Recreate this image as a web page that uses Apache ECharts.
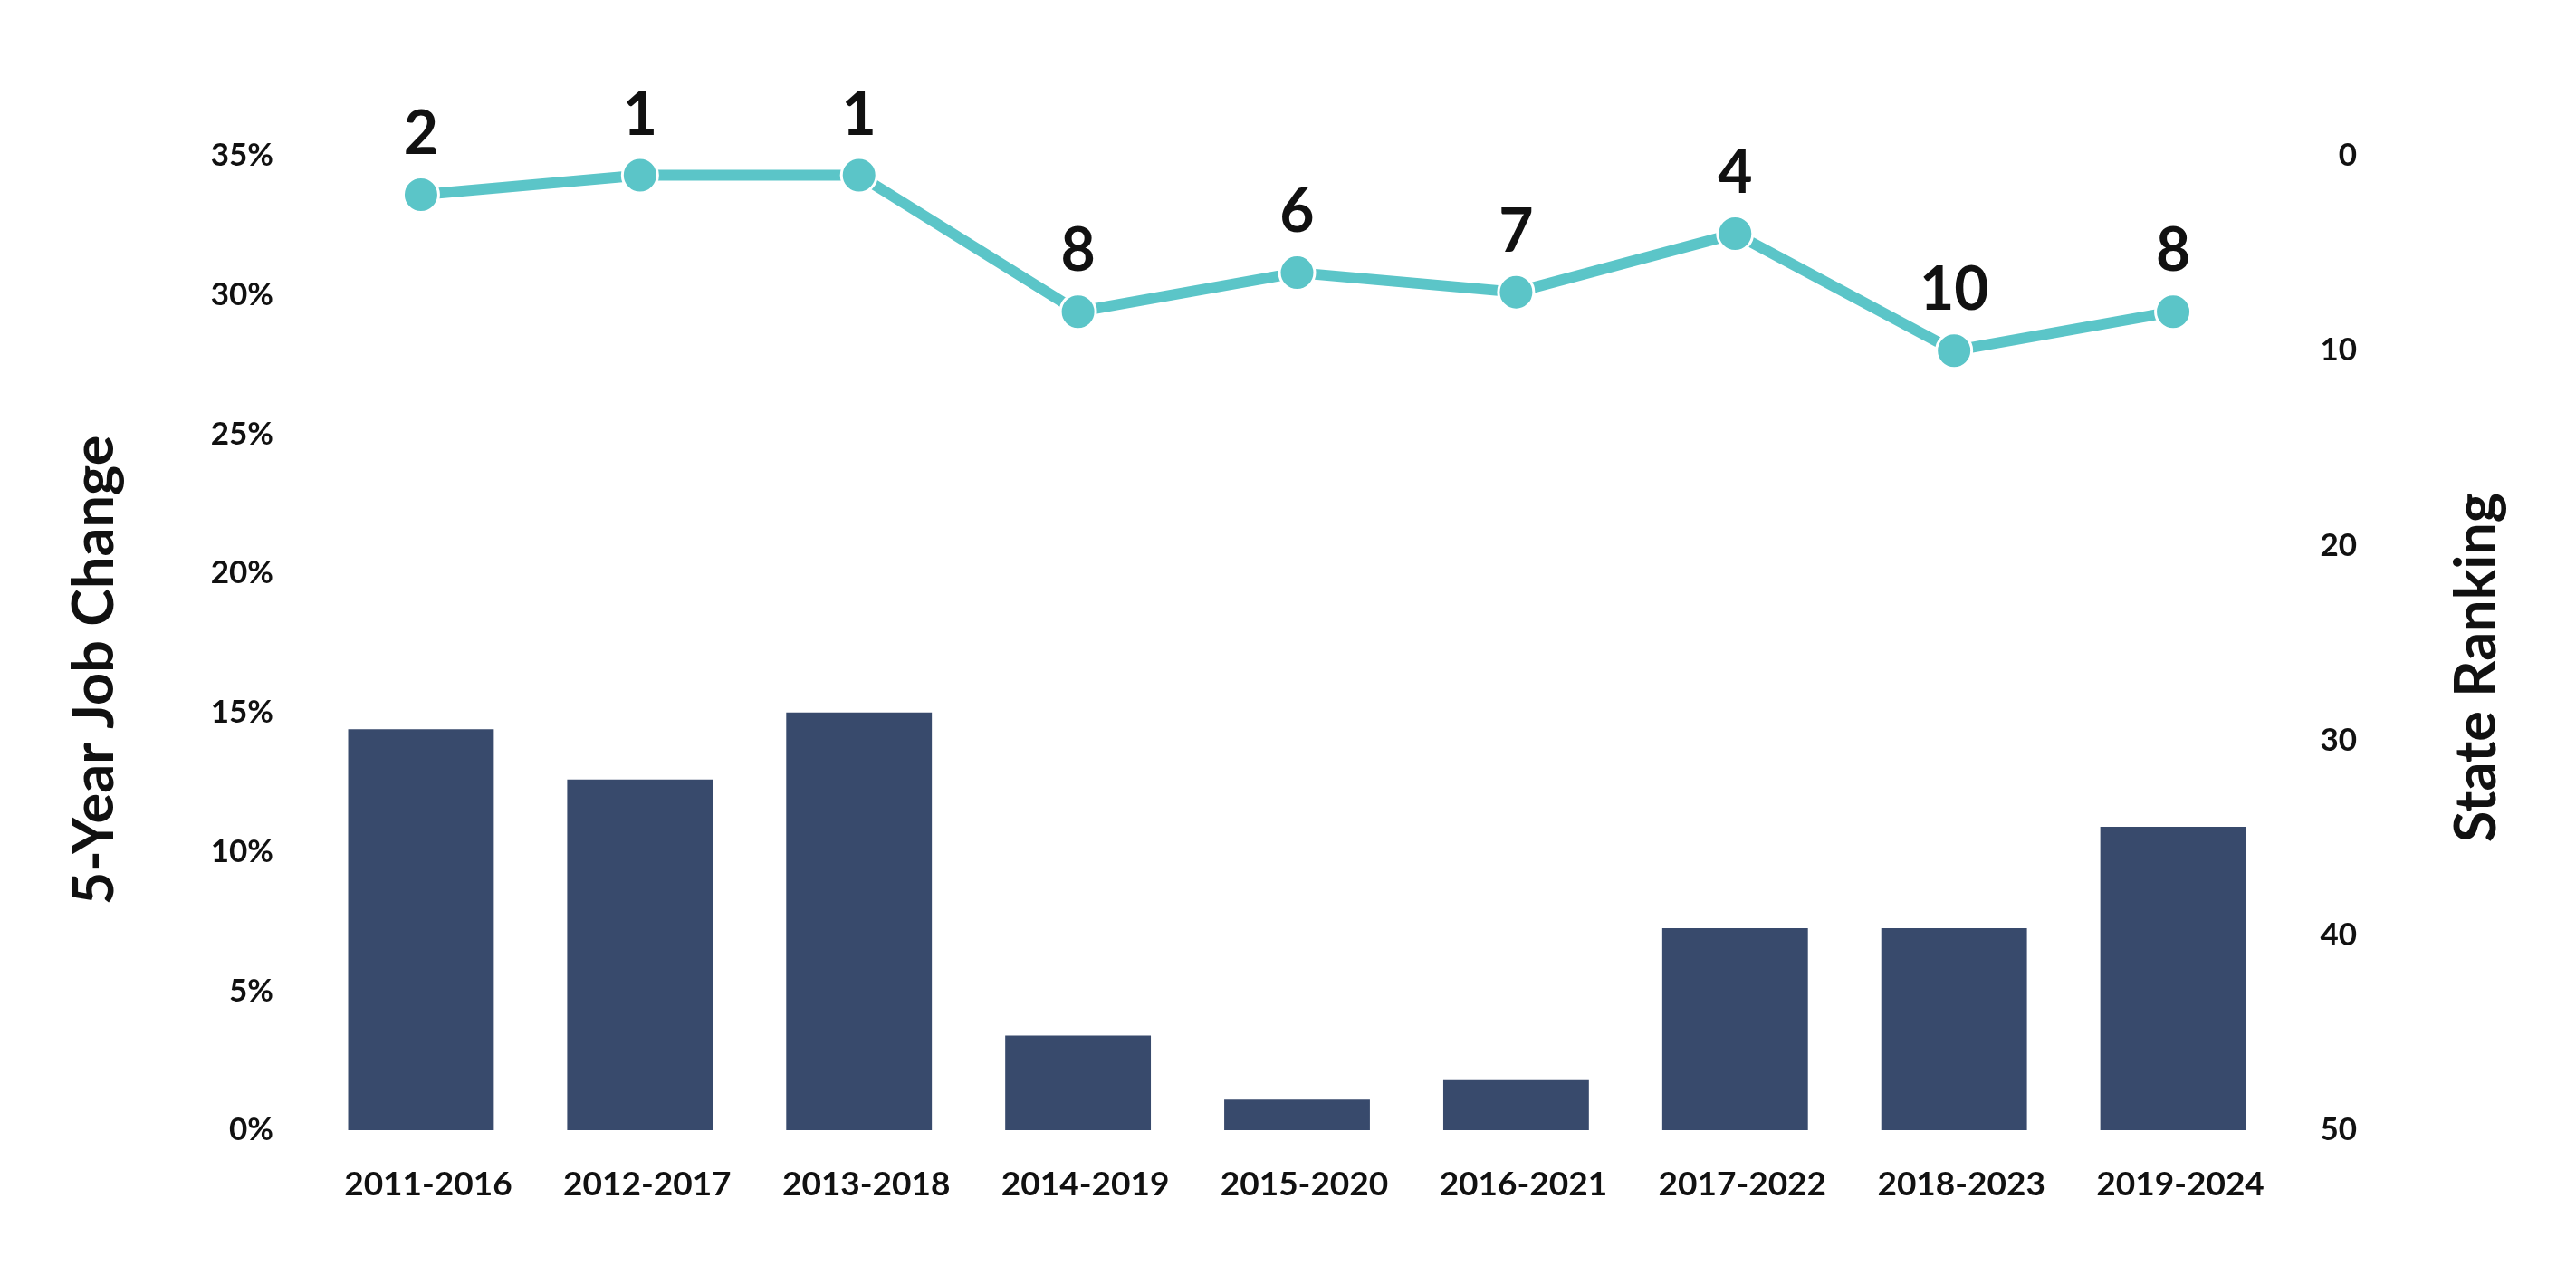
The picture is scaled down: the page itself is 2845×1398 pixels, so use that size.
<!DOCTYPE html>
<html>
<head>
<meta charset="utf-8">
<script src="https://cdn.jsdelivr.net/npm/echarts@6/dist/echarts.min.js"></script>
<style>
  html, body { margin: 0; padding: 0; background: #fff; }
  #chart { width: 2845px; height: 1398px; }
</style>
</head>
<body>
<div id="chart"></div>
<script>
const categories = ['2011-2016', '2012-2017', '2013-2018', '2014-2019', '2015-2020', '2016-2021', '2017-2022', '2018-2023', '2019-2024'];
const jobChange = [14.4, 12.6, 15.0, 3.4, 1.1, 1.8, 7.25, 7.25, 10.9];
const stateRank = [2, 1, 1, 8, 6, 7, 4, 10, 8];
const leftAxisName = '5-Year Job Change';
const rightAxisName = 'State Ranking';

const FONT = 'Lato, "Noto Sans", sans-serif';
const chart = echarts.init(document.getElementById('chart'), null, { renderer: 'canvas' });

chart.setOption({
  backgroundColor: '#ffffff',
  animation: false,
  grid: { left: 344, right: 324, top: 172, bottom: 150, containLabel: false },
  xAxis: {
    type: 'category',
    data: categories,
    axisLine: { show: false },
    axisTick: { show: false },
    splitLine: { show: false },
    axisLabel: {
      interval: 0,
      color: '#111',
      fontFamily: FONT,
      fontSize: 37,
      fontWeight: 'bold',
      margin: 42,
      padding: [0, 0, 0, 16]
    }
  },
  yAxis: [
    {
      type: 'value',
      min: 0,
      max: 35,
      interval: 5,
      name: leftAxisName,
      nameLocation: 'middle',
      nameRotate: 90,
      nameGap: 208,
      nameTextStyle: {
        color: '#111',
        fontFamily: FONT,
        fontSize: 63,
        fontWeight: 'bold',
        padding: [0, 60, 0, 0]
      },
      axisLine: { show: false },
      axisTick: { show: false },
      splitLine: { show: false },
      axisLabel: {
        color: '#111',
        fontFamily: FONT,
        fontSize: 35,
        fontWeight: 'bold',
        margin: 42,
        formatter: '{value}%'
      }
    },
    {
      type: 'value',
      min: 0,
      max: 50,
      interval: 10,
      inverse: true,
      position: 'right',
      name: rightAxisName,
      nameLocation: 'middle',
      nameRotate: 90,
      nameGap: 183,
      nameTextStyle: {
        color: '#111',
        fontFamily: FONT,
        fontSize: 63,
        fontWeight: 'bold',
        padding: [0, 54, 0, 0]
      },
      axisLine: { show: false },
      axisTick: { show: false },
      splitLine: { show: false },
      axisLabel: {
        color: '#111',
        fontFamily: FONT,
        fontSize: 35,
        fontWeight: 'bold',
        margin: 82,
        align: 'right'
      }
    }
  ],
  series: [
    {
      type: 'bar',
      data: jobChange,
      yAxisIndex: 0,
      barWidth: '66.5%',
      itemStyle: { color: '#384a6c' },
      z: 1
    },
    {
      type: 'line',
      data: stateRank,
      yAxisIndex: 1,
      symbol: 'circle',
      symbolSize: 39,
      lineStyle: { color: '#5bc5c8', width: 12 },
      itemStyle: { color: '#5bc5c8', borderColor: '#ffffff', borderWidth: 3 },
      label: {
        show: true,
        position: 'top',
        distance: 12,
        color: '#111',
        fontFamily: FONT,
        fontSize: 66,
        fontWeight: 'bold'
      },
      z: 3
    }
  ]
});
</script>
</body>
</html>
